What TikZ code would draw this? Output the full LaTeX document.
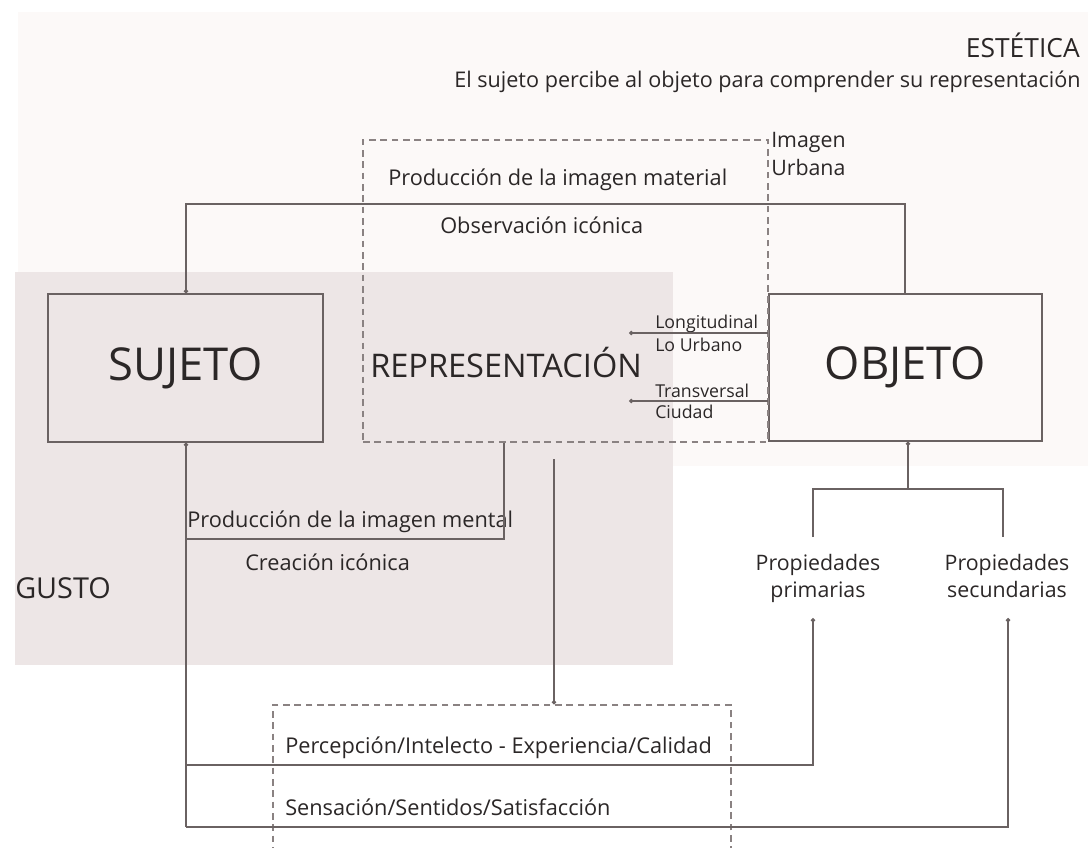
\documentclass[tikz,border=0pt]{standalone}
\usepackage{fontspec}
\setmainfont{Open Sans}
\usetikzlibrary{arrows.meta}
\definecolor{estetica}{HTML}{FCF9F8}
\definecolor{gusto}{HTML}{EDE6E6}
\definecolor{linec}{HTML}{6A6262}
\definecolor{dashc}{HTML}{8A8282}
\definecolor{txt}{HTML}{2B2727}
\begin{document}
\begin{tikzpicture}[x=0.75pt,y=-0.75pt,
  conn/.style={draw=linec, line width=0.9pt},
  arr/.style={conn, -{Circle[length=3.2pt]}},
  dbox/.style={draw=dashc, line width=0.8pt, dash pattern=on 5pt off 3.5pt, inner sep=0pt},
  boxn/.style={draw=linec, line width=0.9pt, inner sep=0pt, text=txt, font=\fontsize{34}{38}\selectfont},
  lbl/.style={text=txt, inner sep=0pt, font=\fontsize{16.3}{19}\selectfont},
  lblb/.style={text=txt, inner sep=0pt, font=\fontsize{16}{20}\selectfont},
  small/.style={text=txt, inner sep=0pt, font=\fontsize{13.3}{15}\selectfont},
  mid/.style={text=txt, inner sep=0pt, font=\fontsize{21.6}{24}\selectfont}]
\useasboundingbox (0,0) rectangle (1088,847);
\clip (0,0) rectangle (1088,847);
\fill[white] (0,0) rectangle (1088,847);
% background regions
\fill[estetica] (18,12) rectangle (1088,466);
\fill[gusto] (15,272) rectangle (673,665);
% main boxes
\node[boxn, fill=gusto, minimum width=206.25pt, minimum height=111pt] (suj) at (185.5,368) {SUJETO};
\node[boxn, fill=estetica, minimum width=204.75pt, minimum height=110.25pt] (obj) at (905.5,367.5) {OBJETO};
\node[dbox, minimum width=303.75pt, minimum height=226.5pt] (rep) at (565.5,291) {};
\node[text=txt, inner sep=0pt, font=\fontsize{24.4}{27}\selectfont, anchor=base west] (repl) at (370,377) {REPRESENTACIÓN};
\node[dbox, minimum width=343.5pt, minimum height=150pt] (sens) at (502,805) {};
% titles
\node[text=txt, inner sep=0pt, font=\fontsize{19.8}{22}\selectfont, anchor=base east] (est) at (1080,57) {ESTÉTICA};
\node[lbl, anchor=base west, font=\fontsize{16.2}{19}\selectfont] (estsub) at (454,87) {El sujeto percibe al objeto para comprender su representación};
\node[mid, anchor=base west] (gus) at (15,598) {GUSTO};
% labels
\node[lblb, anchor=north west, align=left, font=\fontsize{16}{21}\selectfont] (iu) at (771,132) {Imagen\\Urbana};
\node[lbl, anchor=base west] (pim) at (388,185) {Producción de la imagen material};
\node[lbl, anchor=base west] (obs) at (440,233) {Observación icónica};
\node[lbl, anchor=base west] (pmen) at (187,527) {Producción de la imagen mental};
\node[lbl, anchor=base west] (cre) at (245,570) {Creación icónica};
\node[lbl, anchor=base west] (per) at (285,753) {Percepción/Intelecto - Experiencia/Calidad};
\node[lbl, anchor=base west] (sen) at (285,815) {Sensación/Sentidos/Satisfacción};
\node[lblb, anchor=north, align=center, font=\fontsize{16}{20.25}\selectfont] (prim) at (818,554) {Propiedades\\primarias};
\node[lblb, anchor=north, align=center, font=\fontsize{16}{20.25}\selectfont] (sec) at (1007,554) {Propiedades\\secundarias};
\node[small, anchor=base west] (lon) at (655,328) {Longitudinal};
\node[small, anchor=base west] (lur) at (655,351) {Lo Urbano};
\node[small, anchor=base west] (tra) at (655,397) {Transversal};
\node[small, anchor=base west] (ciu) at (655,418) {Ciudad};
% coordinates
\coordinate (t1) at (905,204);
\coordinate (t2) at (186,204);
\coordinate (lg) at (629,333);
\coordinate (tv) at (629,401);
\coordinate (m1) at (504,539);
\coordinate (m2) at (186,539);
\coordinate (bL) at (186,827);
\coordinate (bR) at (1008,827);
\coordinate (pL) at (186,765);
\coordinate (pR) at (813,765);
\coordinate (pa) at (813,618);
\coordinate (sa) at (1008,618);
\coordinate (o1) at (908,489);
\coordinate (o2) at (813,489);
\coordinate (o3) at (1003,489);
\coordinate (o4) at (813,537);
\coordinate (o5) at (1003,537);
\coordinate (d1) at (554,459);
% connectors
\draw[arr] (obj.north -| t1) -- (t1) -- (t2) -- (suj.north -| t2);
\draw[arr] (obj.west |- lg) -- (lg);
\draw[arr] (obj.west |- tv) -- (tv);
\draw[conn] (rep.south -| m1) -- (m1) -- (m2);
\draw[arr] (bL) -- (suj.south -| bL);
\draw[arr] (bL) -- (bR) -- (sa);
\draw[arr] (pL) -- (pR) -- (pa);
\draw[arr] (o1) -- (obj.south -| o1);
\draw[conn] (o4) -- (o2) -- (o3) -- (o5);
\draw[arr] (d1) -- (sens.north -| d1);
\end{tikzpicture}
\end{document}
